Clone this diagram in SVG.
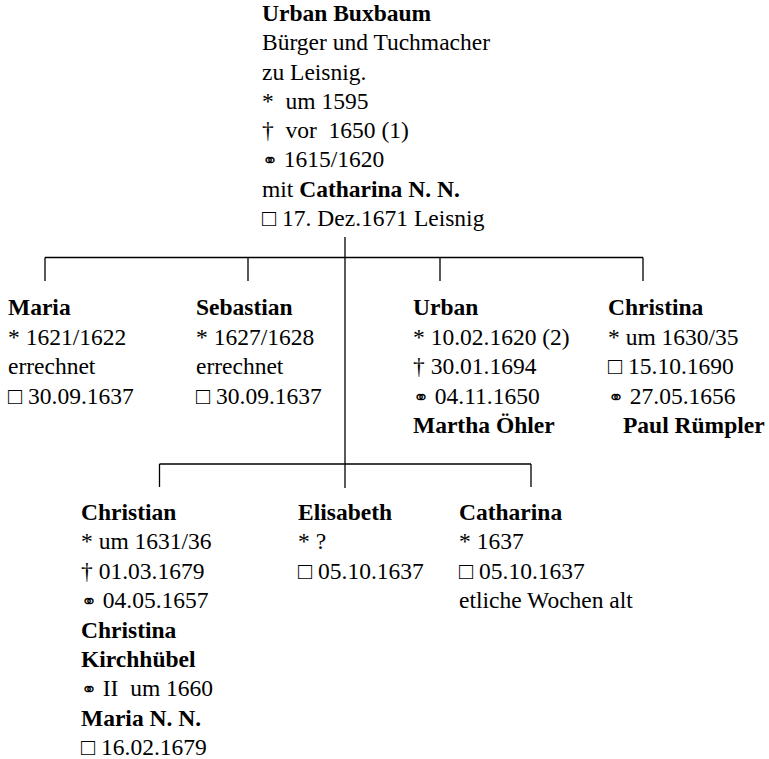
<svg xmlns="http://www.w3.org/2000/svg" width="769" height="759" viewBox="0 0 769 759">
<style>
text{font-family:"Liberation Serif","Times New Roman",serif;font-size:23.5px;fill:#000;white-space:pre}
.b{font-weight:bold}
.sym{font-family:"DejaVu Sans",sans-serif;font-size:19px}
.ln{stroke:#000;stroke-width:1.3;fill:none}
</style>
<rect width="769" height="759" fill="#fff"/>
<g id="connectors">
<path class="ln" d="M345 237V488"/>
<path class="ln" d="M45 257.5H643M45 257.5V281M248 257.5V281M440 257.5V281M643 257.5V281"/>
<path class="ln" d="M159.5 464H531M159.5 464V487M531 464V487"/>
</g>
<g id="urban-buxbaum">
<text x="262" y="21" class="b">Urban Buxbaum</text>
<text x="262" y="50.3">Bürger und Tuchmacher</text>
<text x="262" y="79.5">zu Leisnig.</text>
<text x="262" y="108.8">*  um 1595</text>
<text x="262" y="138">†  vor  1650 (1)</text>
<text x="262" y="167.3"><tspan class="sym">⚭</tspan> 1615/1620</text>
<text x="262" y="196.5">mit <tspan class="b">Catharina N. N.</tspan></text>
<text x="262" y="225.8">□ 17. Dez.1671 Leisnig</text>
</g>
<g id="maria">
<text x="8" y="315" class="b">Maria</text>
<text x="8" y="344.5">* 1621/1622</text>
<text x="8" y="374">errechnet</text>
<text x="8" y="403.5">□ 30.09.1637</text>
</g>
<g id="sebastian">
<text x="196" y="315" class="b">Sebastian</text>
<text x="196" y="344.5">* 1627/1628</text>
<text x="196" y="374">errechnet</text>
<text x="196" y="403.5">□ 30.09.1637</text>
</g>
<g id="urban">
<text x="413" y="315" class="b">Urban</text>
<text x="413" y="344.5">* 10.02.1620 (2)</text>
<text x="413" y="374">† 30.01.1694</text>
<text x="413" y="403.5"><tspan class="sym">⚭</tspan> 04.11.1650</text>
<text x="413" y="433" class="b">Martha Öhler</text>
</g>
<g id="christina">
<text x="608" y="315" class="b">Christina</text>
<text x="608" y="344.5">* um 1630/35</text>
<text x="608" y="374">□ 15.10.1690</text>
<text x="608" y="403.5"><tspan class="sym">⚭</tspan> 27.05.1656</text>
<text x="623" y="433" class="b">Paul Rümpler</text>
</g>
<g id="christian">
<text x="81" y="520" class="b">Christian</text>
<text x="81" y="549.4">* um 1631/36</text>
<text x="81" y="578.8">† 01.03.1679</text>
<text x="81" y="608.2"><tspan class="sym">⚭</tspan> 04.05.1657</text>
<text x="81" y="637.6" class="b">Christina</text>
<text x="81" y="667" class="b">Kirchhübel</text>
<text x="81" y="696.4"><tspan class="sym">⚭</tspan> II  um 1660</text>
<text x="81" y="725.8" class="b">Maria N. N.</text>
<text x="81" y="755.2">□ 16.02.1679</text>
</g>
<g id="elisabeth">
<text x="298" y="520" class="b">Elisabeth</text>
<text x="298" y="549.4">* ?</text>
<text x="298" y="578.8">□ 05.10.1637</text>
</g>
<g id="catharina">
<text x="459" y="520" class="b">Catharina</text>
<text x="459" y="549.4">* 1637</text>
<text x="459" y="578.8">□ 05.10.1637</text>
<text x="459" y="608.2">etliche Wochen alt</text>
</g>
</svg>
